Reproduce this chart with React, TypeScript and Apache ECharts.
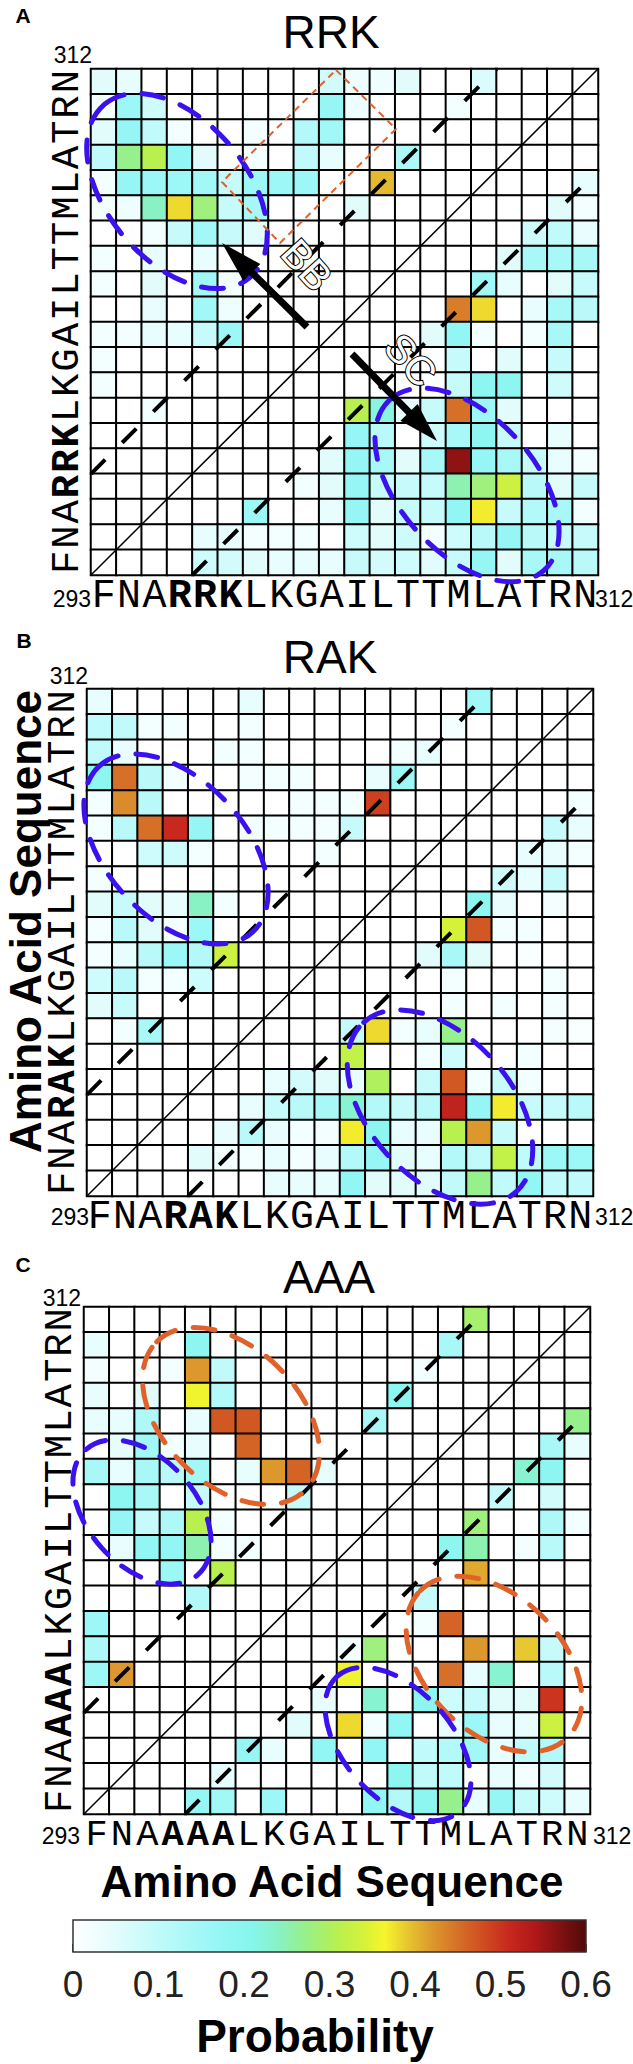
import React, { useEffect, useRef } from "react";
import * as echarts from "echarts";

// ---------------- data ----------------
const RESIDUES = ["293","294","295","296","297","298","299","300","301","302","303","304","305","306","307","308","309","310","311","312"];
const SEQ_RRK = ["F","N","A","R","R","K","L","K","G","A","I","L","T","T","M","L","A","T","R","N"];
const SEQ_RAK = ["F","N","A","R","A","K","L","K","G","A","I","L","T","T","M","L","A","T","R","N"];
const SEQ_AAA = ["F","N","A","A","A","A","L","K","G","A","I","L","T","T","M","L","A","T","R","N"];
const BOLD_IDX = [3, 4, 5];
const TITLES = ["RRK", "RAK", "AAA"];
const PANEL_LETTERS = ["A", "B", "C"];

// rows listed from top (312, N) to bottom (293, F); columns 293 -> 312
const PROB_RRK = [
  [0.05,0.04,0,0,0,0,0,0,0,0.07,0.03,0.03,0.05,0,0,0.06,0,0,0,0],
  [0.02,0.16,0.08,0,0,0,0,0,0,0.17,0.03,0,0,0,0.02,0,0,0,0,0],
  [0.05,0.17,0.10,0.02,0,0,0.02,0,0.12,0.15,0,0,0,0,0,0,0,0,0,0],
  [0.10,0.27,0.31,0.18,0.05,0,0.02,0,0.10,0.04,0,0,0.13,0,0,0,0,0,0,0],
  [0.02,0.17,0.16,0.16,0.15,0.09,0.16,0.16,0.16,0,0,0.40,0,0,0,0,0,0,0,0.04],
  [0.02,0.03,0.24,0.38,0.28,0.09,0.14,0,0,0,0.05,0,0,0,0,0,0,0,0.05,0.02],
  [0,0,0.02,0.09,0.15,0.09,0.05,0,0,0,0,0,0,0,0,0,0,0.08,0.10,0.04],
  [0.02,0,0.04,0,0.04,0,0,0,0,0,0,0,0,0,0,0,0.05,0.14,0.14,0.14],
  [0.02,0,0.05,0,0.15,0.02,0,0,0,0,0,0,0,0,0,0.15,0.04,0,0.05,0.09],
  [0,0,0.04,0,0.15,0.03,0,0,0,0,0,0,0,0,0.44,0.38,0,0.04,0.14,0.11],
  [0.02,0.02,0.04,0.04,0.09,0.16,0,0,0,0,0,0,0,0.05,0.18,0.02,0,0.02,0.14,0],
  [0.02,0,0,0,0,0,0,0,0,0,0,0,0,0,0.09,0,0.05,0,0.09,0],
  [0.02,0,0,0,0,0,0,0,0,0,0,0,0,0,0.09,0.19,0.19,0,0.08,0],
  [0,0,0.02,0,0,0,0,0,0,0,0.31,0.22,0.04,0.09,0.45,0.16,0.05,0,0,0],
  [0,0,0,0,0,0,0,0,0,0,0.17,0.11,0,0.08,0.14,0.19,0.09,0,0.04,0],
  [0,0,0,0,0,0,0,0,0,0.05,0.17,0.14,0.05,0.14,0.56,0.17,0.14,0.09,0.04,0.02],
  [0,0,0,0,0,0,0,0,0.02,0.05,0.17,0.09,0.09,0.09,0.25,0.28,0.33,0.11,0.05,0.09],
  [0,0,0,0,0,0,0.16,0,0,0.04,0.17,0.05,0.09,0.09,0.18,0.37,0.09,0.12,0.14,0.02],
  [0,0,0,0,0.04,0.04,0.02,0.02,0.02,0,0.08,0.05,0.08,0.02,0.08,0.11,0.17,0.11,0.09,0.09],
  [0,0,0,0,0.08,0.07,0.05,0.04,0.04,0.04,0.09,0.07,0.08,0.05,0.09,0.17,0.05,0.14,0.14,0.11],
];

const PROB_RAK = [
  [0.04,0,0,0,0,0,0.04,0,0,0,0,0,0,0,0,0.15,0,0,0,0],
  [0.10,0.10,0.02,0.02,0,0,0.02,0,0,0,0,0,0,0,0.02,0,0,0,0,0],
  [0.10,0.04,0,0,0,0.02,0.02,0,0,0,0,0,0.02,0.04,0,0,0,0,0,0],
  [0.19,0.45,0.11,0.02,0,0,0.02,0.02,0.02,0,0,0.04,0.16,0,0,0,0,0,0,0],
  [0.02,0.43,0.11,0,0,0,0,0,0.02,0.02,0.02,0.49,0,0,0,0,0,0,0,0.02],
  [0.02,0.11,0.45,0.51,0.17,0,0.02,0.02,0.02,0.02,0.09,0,0,0,0,0,0,0,0.09,0.04],
  [0,0,0.08,0.08,0.02,0,0,0,0,0.02,0,0,0,0,0,0,0,0.04,0.04,0.02],
  [0.02,0,0,0,0,0,0,0,0,0,0,0,0,0,0,0,0.08,0.04,0.09,0],
  [0.05,0.09,0.05,0.04,0.24,0.02,0,0,0,0,0,0,0,0,0,0.19,0.04,0,0.02,0],
  [0.02,0.11,0.05,0.02,0.16,0,0,0,0,0,0,0,0,0,0.34,0.47,0.02,0.02,0,0],
  [0.02,0.04,0.11,0.16,0.12,0.33,0,0,0,0,0,0,0,0.05,0.14,0.05,0,0.01,0,0],
  [0.08,0.11,0.02,0.02,0.08,0,0,0,0,0,0,0,0,0,0.02,0,0,0,0.02,0],
  [0.05,0.09,0,0,0,0,0,0,0,0,0,0,0,0,0.02,0,0.02,0,0.02,0],
  [0,0.02,0.14,0,0,0,0,0,0,0,0.09,0.38,0.02,0.04,0.27,0,0,0,0.02,0.01],
  [0,0,0,0,0,0,0,0,0,0,0.32,0,0,0.02,0.08,0,0,0.02,0,0],
  [0,0,0,0,0,0,0,0.04,0.07,0.05,0.04,0.30,0,0.09,0.47,0.02,0.09,0.02,0,0],
  [0,0,0,0,0,0,0.04,0.09,0.11,0.14,0.23,0.12,0.09,0.11,0.52,0.17,0.37,0.09,0.09,0.11],
  [0,0,0,0,0,0.04,0.11,0.04,0.02,0.02,0.37,0.19,0.04,0.04,0.31,0.42,0.09,0,0,0],
  [0,0,0,0,0.05,0.02,0.02,0.04,0.02,0.04,0.12,0.17,0.05,0.04,0.12,0.10,0.32,0.10,0.16,0.16],
  [0,0,0,0,0,0,0,0.04,0.04,0.04,0.18,0.05,0.05,0.05,0.10,0.27,0.10,0.18,0.10,0.10],
];

const PROB_AAA = [
  [0,0,0,0,0,0,0,0,0,0,0,0,0,0,0,0.29,0,0,0,0],
  [0.04,0,0,0,0.19,0,0.02,0,0,0,0,0,0,0,0.14,0,0,0,0,0],
  [0.02,0,0,0.02,0.42,0.10,0,0,0,0,0,0,0,0.02,0,0,0,0,0,0],
  [0.04,0,0.05,0,0.36,0.12,0,0,0,0,0,0,0.19,0,0,0,0,0,0,0],
  [0.04,0.04,0.13,0,0.04,0.47,0.47,0,0,0,0,0.14,0,0,0,0,0,0,0,0.27],
  [0,0.04,0.15,0.02,0.04,0,0.46,0,0,0,0,0,0,0,0,0,0,0,0.14,0.04],
  [0.14,0.04,0.14,0.11,0.15,0,0.04,0.42,0.46,0.04,0,0,0,0,0,0,0,0.23,0.19,0],
  [0,0.19,0.14,0,0.09,0,0,0,0.09,0,0,0,0,0,0,0,0.09,0,0.07,0],
  [0,0.17,0.09,0.13,0.31,0.02,0,0,0,0,0,0,0,0,0,0.28,0,0,0.13,0.02],
  [0,0.04,0.18,0.18,0.25,0.02,0.02,0,0,0,0,0,0,0,0.19,0.25,0,0.02,0.11,0],
  [0,0,0,0.16,0,0.31,0,0,0,0,0,0,0,0,0,0.41,0,0,0,0],
  [0,0,0,0,0.12,0,0,0,0,0,0,0,0,0.09,0,0,0,0,0,0],
  [0.16,0,0,0,0,0,0,0,0,0,0,0,0,0.02,0.46,0,0,0,0,0],
  [0.13,0,0,0,0,0,0,0,0,0,0.02,0.28,0,0,0,0.42,0,0.39,0.09,0],
  [0.16,0.42,0,0,0,0,0,0,0,0,0.36,0,0,0,0.45,0.04,0.23,0,0.11,0],
  [0,0,0,0,0,0,0,0,0,0.04,0,0.23,0,0.19,0.08,0.09,0.05,0.05,0.50,0],
  [0,0,0,0,0,0,0,0,0.05,0,0.38,0.02,0.18,0,0.04,0.16,0.04,0.04,0.33,0],
  [0,0,0,0,0,0,0.17,0.04,0,0.18,0,0.18,0,0.10,0.12,0.15,0.04,0.10,0.12,0],
  [0,0,0,0,0,0.04,0,0,0,0,0,0,0.19,0.10,0.10,0,0.04,0.02,0.07,0],
  [0,0,0,0,0.17,0.15,0,0.16,0,0,0,0.18,0.12,0.19,0.27,0.04,0.17,0.09,0.08,0.04],
];

// diagonals in residue-index units
const DIAG_SOLID = [[0, 0], [20, 20]];
const DIAG_UPPER = [[0, 4], [16, 20]];
const DIAG_LOWER = [[4, 0], [20, 16]];

const CB_MIN = 0;
const CB_MAX = 0.6;
const CB_INTERVAL = 0.1;

// colormap stops [value, r, g, b]
const CMAP_STOPS: number[][] = [
  [0.00, 255, 255, 255],
  [0.05, 226, 252, 252],
  [0.10, 192, 250, 250],
  [0.17, 150, 246, 246],
  [0.21, 134, 246, 236],
  [0.24, 136, 242, 196],
  [0.27, 150, 240, 140],
  [0.31, 184, 240, 80],
  [0.34, 214, 242, 56],
  [0.365, 246, 244, 44],
  [0.39, 232, 200, 48],
  [0.42, 220, 152, 44],
  [0.45, 214, 112, 40],
  [0.48, 208, 76, 32],
  [0.51, 200, 40, 30],
  [0.54, 176, 24, 24],
  [0.60, 80, 10, 10],
];

// ---------------- layout / style ----------------
const W = 633;
const H = 2064;
const GRIDS = [
  { left: 91, top: 69, width: 507, height: 506 },
  { left: 87, top: 689, width: 506, height: 507 },
  { left: 84, top: 1307, width: 506, height: 507 },
];
const XLABEL_SIZE = [40, 40, 37];
const CB_GRID = { left: 73, top: 1920, width: 513, height: 32 };
const MONO = "'Liberation Mono', 'DejaVu Sans Mono', monospace";
const SANS = "'Liberation Sans', Arial, sans-serif";
const BLUE = "#3B12EE";
const ORANGE = "#E0622A";

function cmap(v: number): string {
  const s = CMAP_STOPS;
  if (v <= s[0][0]) return `rgb(${s[0][1]},${s[0][2]},${s[0][3]})`;
  for (let i = 1; i < s.length; i++) {
    if (v <= s[i][0]) {
      const t = (v - s[i - 1][0]) / (s[i][0] - s[i - 1][0]);
      const c = [1, 2, 3].map((k) => Math.round(s[i - 1][k] + t * (s[i][k] - s[i - 1][k])));
      return `rgb(${c[0]},${c[1]},${c[2]})`;
    }
  }
  const l = s[s.length - 1];
  return `rgb(${l[1]},${l[2]},${l[3]})`;
}

const ELLIPSES = [
  { cx: 177, cy: 191, rx: 113, ry: 70, deg: 50, color: BLUE },
  { cx: 467, cy: 485, rx: 115, ry: 68, deg: 48, color: BLUE },
  { cx: 176, cy: 849, rx: 113, ry: 69, deg: 47, color: BLUE },
  { cx: 440, cy: 1107, rx: 114, ry: 71, deg: 48, color: BLUE },
  { cx: 231, cy: 1416, rx: 105, ry: 68, deg: 45, color: ORANGE },
  { cx: 142, cy: 1512, rx: 84, ry: 54, deg: 48, color: BLUE },
  { cx: 494, cy: 1664, rx: 104, ry: 68, deg: 45, color: ORANGE },
  { cx: 398, cy: 1744, rx: 91, ry: 54, deg: 48, color: BLUE },
];

const ARROWS = [
  { tail: [307, 327], tip: [222, 243], head: 42, half: 12 },
  { tail: [352, 354], tip: [437, 441], head: 40, half: 12 },
];

function arrowEls(a: any) {
  const dx = a.tip[0] - a.tail[0];
  const dy = a.tip[1] - a.tail[1];
  const L = Math.hypot(dx, dy);
  const ux = dx / L, uy = dy / L;
  const bx = a.tip[0] - ux * a.head, by = a.tip[1] - uy * a.head;
  const px = -uy, py = ux;
  return [
    { type: "line", z: 101, silent: true, shape: { x1: a.tail[0], y1: a.tail[1], x2: bx + ux * 4, y2: by + uy * 4 }, style: { stroke: "#000", lineWidth: 7 } },
    { type: "polygon", z: 101, silent: true, shape: { points: [[a.tip[0], a.tip[1]], [bx + px * a.half, by + py * a.half], [bx - px * a.half, by - py * a.half]] }, style: { fill: "#000" } },
  ];
}

function txt(text: string, x: number, y: number, size: number, opts: any = {}) {
  const align = opts.align || "center";
  const style: any = {
    text,
    fontSize: size,
    fontFamily: opts.family || SANS,
    fontWeight: opts.weight || "normal",
    fill: opts.fill || "#000",
    stroke: opts.stroke,
    lineWidth: opts.lineWidth,
    textAlign: align,
    textVerticalAlign: "middle",
    align,
    verticalAlign: "middle",
  };
  if (opts.lineHeight) style.lineHeight = opts.lineHeight;
  return { type: "text", x, y, rotation: opts.rotation || 0, z: 102, silent: true, style };
}

function labelFormatter(seq: string[]) {
  return (_v: any, idx: number) => (BOLD_IDX.includes(idx) ? `{b|${seq[idx]}}` : `{n|${seq[idx]}}`);
}

function richFor(size: number, lh: number) {
  return {
    n: { fontFamily: MONO, fontSize: size, color: "#000", lineHeight: lh },
    b: { fontFamily: MONO, fontSize: size, color: "#000", fontWeight: "bold", lineHeight: lh },
  };
}

function toHeat(m: number[][]) {
  const out: number[][] = [];
  m.forEach((row, t) => row.forEach((v, c) => out.push([c, 19 - t, v])));
  return out;
}

export default function App() {
  const ref = useRef<HTMLDivElement>(null);
  useEffect(() => {
    document.body.style.margin = "0";
    const chart = echarts.init(ref.current!, null, { renderer: "svg" });
    const seqs = [SEQ_RRK, SEQ_RAK, SEQ_AAA];
    const mats = [PROB_RRK, PROB_RAK, PROB_AAA];

    const grids: any[] = GRIDS.map((g) => ({ ...g, containLabel: false }));
    grids.push({ ...CB_GRID, containLabel: false });

    const xAxis: any[] = [];
    const yAxis: any[] = [];
    GRIDS.forEach((_g, i) => {
      const fs = XLABEL_SIZE[i];
      xAxis.push({
        type: "category", gridIndex: i, data: RESIDUES, position: "bottom",
        axisLine: { show: false }, axisTick: { show: false }, splitLine: { show: false },
        axisLabel: { interval: 0, margin: 6, fontSize: fs, lineHeight: 30, fontFamily: MONO, formatter: labelFormatter(seqs[i]), rich: richFor(fs, 30) },
      });
      xAxis.push({ type: "value", gridIndex: i, min: 0, max: 20, show: false });
      yAxis.push({
        type: "category", gridIndex: i, data: RESIDUES, position: "left",
        axisLine: { show: false }, axisTick: { show: false }, splitLine: { show: false },
        axisLabel: { interval: 0, rotate: 90, margin: 4, fontSize: 39, fontFamily: MONO, formatter: labelFormatter(seqs[i]), rich: richFor(39, 39) },
      });
      yAxis.push({ type: "value", gridIndex: i, min: 0, max: 20, show: false });
    });
    xAxis.push({
      type: "value", gridIndex: 3, min: CB_MIN, max: CB_MAX, interval: CB_INTERVAL, position: "bottom",
      axisLine: { show: false }, splitLine: { show: false },
      axisTick: { show: true, inside: true, length: 8, lineStyle: { color: "#222", width: 1.5 } },
      axisLabel: { fontSize: 37, color: "#222", fontFamily: SANS, margin: 14 },
    });
    yAxis.push({ type: "value", gridIndex: 3, min: 0, max: 1, show: false });

    const series: any[] = [];
    mats.forEach((m, i) => {
      series.push({
        type: "heatmap", xAxisIndex: 2 * i, yAxisIndex: 2 * i, data: toHeat(m),
        itemStyle: { borderColor: "#000", borderWidth: 2 }, emphasis: { disabled: true }, silent: true, z: 2,
      });
    });
    GRIDS.forEach((_g, i) => {
      series.push({ type: "line", xAxisIndex: 2 * i + 1, yAxisIndex: 2 * i + 1, data: DIAG_SOLID, symbol: "none", silent: true, z: 5, lineStyle: { color: "#000", width: 1.5 } });
      [DIAG_UPPER, DIAG_LOWER].forEach((d) =>
        series.push({ type: "line", xAxisIndex: 2 * i + 1, yAxisIndex: 2 * i + 1, data: d, symbol: "none", silent: true, z: 6, lineStyle: { color: "#000", width: 4, type: [20, 24] } })
      );
    });

    const colorsArr = Array.from({ length: 61 }, (_x, k) => cmap(CB_MIN + (k * (CB_MAX - CB_MIN)) / 60));

    const graphics: any[] = [];
    // colorbar
    graphics.push({
      type: "rect", z: 1, silent: true,
      shape: { x: CB_GRID.left, y: CB_GRID.top, width: CB_GRID.width, height: CB_GRID.height },
      style: {
        stroke: "#333", lineWidth: 1.5,
        fill: new echarts.graphic.LinearGradient(0, 0, 1, 0, CMAP_STOPS.map((s) => ({ offset: (s[0] - CB_MIN) / (CB_MAX - CB_MIN), color: `rgb(${s[1]},${s[2]},${s[3]})` }))),
      },
    });
    // ellipses
    ELLIPSES.forEach((e) =>
      graphics.push({
        type: "ellipse", x: e.cx, y: e.cy, rotation: (-e.deg * Math.PI) / 180, z: 100, silent: true,
        shape: { cx: 0, cy: 0, rx: e.rx, ry: e.ry },
        style: { fill: "none", stroke: e.color, lineWidth: 5, lineDash: [22, 18], lineCap: "round" },
      })
    );
    // orange box (panel A)
    graphics.push({
      type: "polygon", z: 100, silent: true,
      shape: { points: [[336, 70], [396, 129], [280, 243], [222, 182]] },
      style: { fill: "none", stroke: ORANGE, lineWidth: 2, lineDash: [7, 5] },
    });
    ARROWS.forEach((a) => graphics.push(...arrowEls(a)));
    const rot = (-48 * Math.PI) / 180;
    graphics.push(txt("BB", 307, 265, 40, { rotation: rot, fill: "#fff", stroke: "#000", lineWidth: 2 }));
    graphics.push(txt("SC", 411, 360, 40, { rotation: rot, fill: "#fff", stroke: "#000", lineWidth: 2 }));

    // panel letters and titles
    const letterPos = [[23, 15], [24, 640], [23, 1264]];
    const titlePos = [[331, 31.5], [330, 657], [329, 1277]];
    PANEL_LETTERS.forEach((l, i) => graphics.push(txt(l, letterPos[i][0], letterPos[i][1], 21, { weight: "bold" })));
    TITLES.forEach((t, i) => graphics.push(txt(t, titlePos[i][0], titlePos[i][1], 46)));

    // residue number labels
    const topNum = [[92, 55], [88, 675.5], [81, 1298]];
    const leftNum = [[91, 598.5], [89, 1216.5], [80, 1836]];
    const rightNum = [[595, 598.5], [595, 1216.5], [593, 1836]];
    for (let i = 0; i < 3; i++) {
      graphics.push(txt(RESIDUES[19], topNum[i][0], topNum[i][1], 23, { align: "right" }));
      graphics.push(txt(RESIDUES[0], leftNum[i][0], leftNum[i][1], 23, { align: "right" }));
      graphics.push(txt(RESIDUES[19], rightNum[i][0], rightNum[i][1], 23, { align: "left" }));
    }
    graphics.push(txt("Amino Acid Sequence", 332, 1881.5, 44, { weight: "bold", lineHeight: 36 }));
    graphics.push(txt("Amino Acid Sequence", 25, 921.5, 44, { weight: "bold", rotation: Math.PI / 2, lineHeight: 36 }));
    graphics.push(txt("Probability", 315, 2036, 46, { weight: "bold", lineHeight: 40 }));

    chart.setOption({
      animation: false,
      backgroundColor: "#fff",
      grid: grids,
      xAxis,
      yAxis,
      visualMap: {
        show: false, type: "continuous", min: CB_MIN, max: CB_MAX, seriesIndex: [0, 1, 2], dimension: 2,
        inRange: { color: colorsArr },
      },
      series,
      graphic: { elements: graphics },
    });
    return () => chart.dispose();
  }, []);
  return <div ref={ref} style={{ width: W, height: H, display: "block" }} />;
}
